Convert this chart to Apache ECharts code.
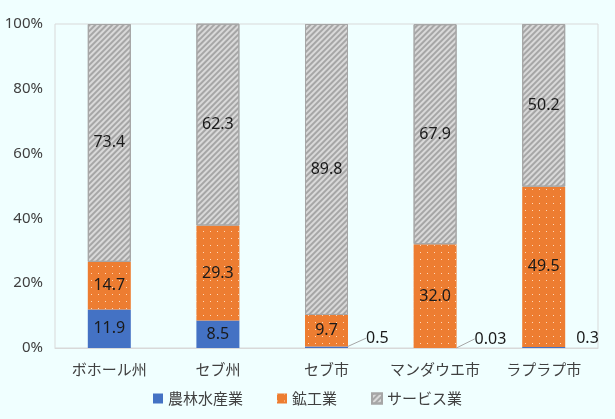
<!DOCTYPE html>
<html>
<head>
<meta charset="utf-8">
<script src="https://cdn.jsdelivr.net/npm/echarts@6/dist/echarts.min.js"></script>
<style>
  html, body { margin: 0; padding: 0; background: #f0ffff; }
  #chart { width: 615px; height: 419px; }
</style>
</head>
<body>
<div id="chart"></div>
<script>
const categories = ['ボホール州', 'セブ州', 'セブ市', 'マンダウエ市', 'ラプラプ市']
const agriculture = [11.9, 8.5, 0.5, 0.03, 0.3]
const mining = [14.7, 29.3, 9.7, 32.0, 49.5]
const services = [73.4, 62.3, 89.8, 67.9, 50.2]
const yTicks = [0, 20, 40, 60, 80, 100]

const fontFamily = '"Noto Sans CJK JP", sans-serif'
const labelStyle = {show: true, color: '#1a1a1a', fontSize: 16, fontFamily: '"Noto Sans", sans-serif'}

let myChart = echarts.init(document.getElementById('chart'))

// small values sit beside the bar with a leader line, like the original
const agriData = agriculture.map((v, i) => {
  if (v >= 1) return v
  return {
    value: v,
    label: {position: 'right', distance: 0},
    labelLine: {show: i !== 4}
  }
})

let option = {
  backgroundColor: '#f0ffff',
  textStyle: {fontFamily: fontFamily},
  grid: {left: 55, right: 17, top: 24, bottom: 71, show: true, borderColor: '#d9d9d9', borderWidth: 1},
  legend: {
    bottom: 8,
    itemWidth: 10,
    itemHeight: 10,
    itemGap: 34,
    icon: 'rect',
    textStyle: {fontSize: 15, color: '#404040', fontFamily: fontFamily},
    data: ['農林水産業', '鉱工業', 'サービス業']
  },
  xAxis: {
    type: 'category',
    data: categories,
    axisTick: {show: false},
    axisLine: {lineStyle: {color: '#d9d9d9'}},
    axisLabel: {fontSize: 15, color: '#404040', margin: 14, interval: 0}
  },
  yAxis: {
    type: 'value',
    min: yTicks[0],
    max: yTicks[yTicks.length - 1],
    interval: 20,
    splitLine: {show: false},
    axisLabel: {formatter: '{value}%', fontSize: 15, color: '#404040', margin: 12, fontFamily: '"Noto Sans", sans-serif'}
  },
  series: [
    {
      name: '農林水産業', type: 'bar', stack: 'all', barWidth: 43,
      itemStyle: {color: '#4472c4'},
      label: Object.assign({}, labelStyle, {formatter: p => p.value < 0.1 ? p.value.toFixed(2) : p.value.toFixed(1)}),
      labelLine: {show: true, lineStyle: {color: '#a6a6a6', width: 1}},
      labelLayout: p => {
        if (agriculture[p.dataIndex] >= 1) return {hideOverlap: false}
        if (p.dataIndex === 4) return {dx: 11, dy: -9, hideOverlap: false}
        return {dx: 18, dy: -9, hideOverlap: false}
      },
      data: agriData
    },
    {
      name: '鉱工業', type: 'bar', stack: 'all', barWidth: 43,
      itemStyle: {
        color: '#ed7d31',
        decal: {symbol: 'rect', symbolSize: 1, dashArrayX: [[1, 6]], dashArrayY: [1, 6], color: '#ffd8b8'}
      },
      label: Object.assign({}, labelStyle, {formatter: p => p.value.toFixed(1)}),
      data: mining
    },
    {
      name: 'サービス業', type: 'bar', stack: 'all', barWidth: 43,
      itemStyle: {
        color: '#d9d9d9',
        borderColor: '#a6a6a6',
        borderWidth: 1,
        decal: {symbol: 'rect', symbolSize: 1, dashArrayX: [1, 0], dashArrayY: [2, 2], rotation: -Math.PI / 4, color: '#a6a6a6'}
      },
      label: Object.assign({}, labelStyle, {formatter: p => p.value.toFixed(1)}),
      data: services
    }
  ]
}
myChart.setOption(option)
</script>
</body>
</html>
